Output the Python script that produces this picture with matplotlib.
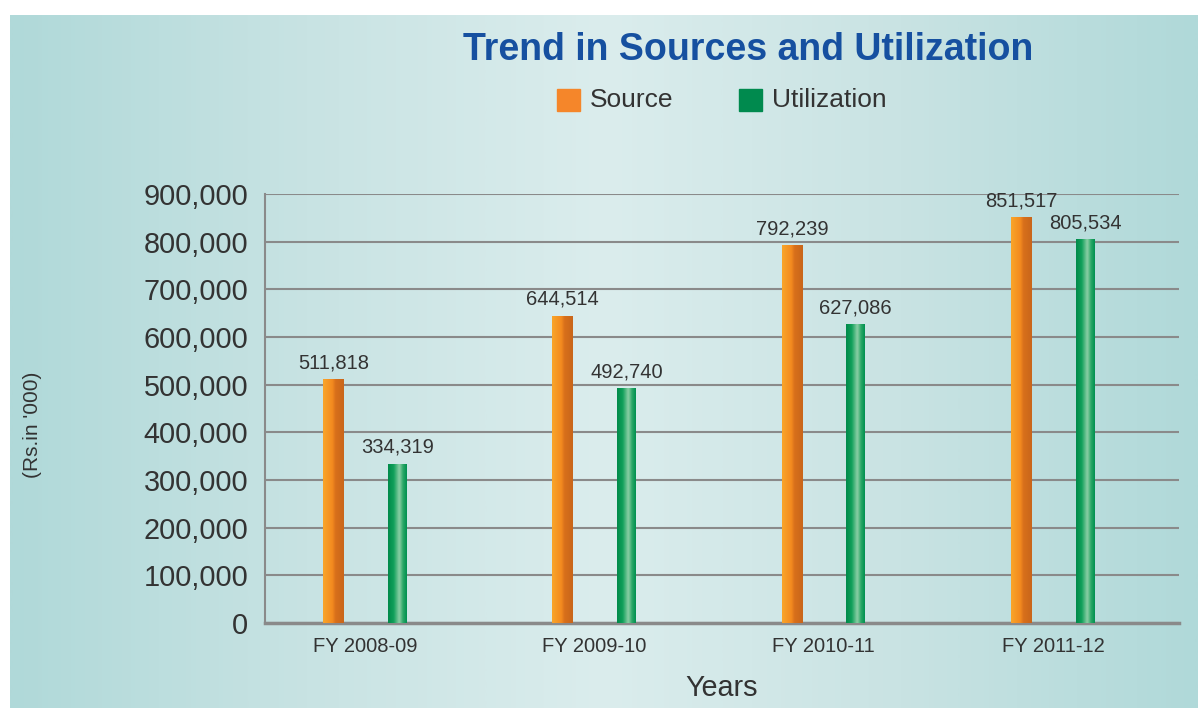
import numpy as np
import matplotlib
matplotlib.use("Agg")
import matplotlib.pyplot as plt
from matplotlib.colors import LinearSegmentedColormap
from matplotlib.ticker import FuncFormatter

# ---- data (Rs. in '000) ----
years = ["FY 2008-09", "FY 2009-10", "FY 2010-11", "FY 2011-12"]
source = [511818, 644514, 792239, 851517]
utilization = [334319, 492740, 627086, 805534]
y_ticks = [0, 100000, 200000, 300000, 400000, 500000, 600000, 700000, 800000, 900000]

plt.rcParams["font.family"] = ["Liberation Sans", "DejaVu Sans"]
TEXT = "#333333"
GRID = "#8a8a8a"

W, H = 1198, 708
fig = plt.figure(figsize=(W / 100, H / 100), dpi=100, facecolor="white")

# teal panel with a soft horizontal gradient, lighter towards the middle
bg = fig.add_axes([10 / W, 0, 1 - 10 / W, 1 - 15 / H], zorder=0)
bg_cmap = LinearSegmentedColormap.from_list(
    "panel", ["#b0d9d9", "#c8e3e3", "#dbeded", "#c9e3e3", "#b0d9d9"])
bg.imshow(np.linspace(0, 1, 512)[None, :], aspect="auto", cmap=bg_cmap,
          extent=[0, 1, 0, 1])
bg.set_axis_off()

ax = fig.add_axes([265 / W, 1 - 623 / H, (1179 - 265) / W, (623 - 194) / H], zorder=1)
ax.patch.set_alpha(0)

x = np.arange(len(years))
off = 0.139
b_src = ax.bar(x - off, source, width=0.09, color="#f08a1e", zorder=3)
b_utl = ax.bar(x + off, utilization, width=0.081, color="#00914f", zorder=3)

# cylindrical shading inside each bar
src_cmap = LinearSegmentedColormap.from_list(
    "src", [(0.0, "#f9a52a"), (0.45, "#f38a1f"), (0.6, "#d8701b"), (1.0, "#c9661a")])
utl_cmap = LinearSegmentedColormap.from_list(
    "utl", [(0.0, "#008a4a"), (0.3, "#10a05a"), (0.6, "#8ccfa6"), (0.8, "#2aa766"), (1.0, "#009050")])

grad = np.linspace(0, 1, 64)[None, :]
for bars, cm in ((b_src, src_cmap), (b_utl, utl_cmap)):
    for p in bars:
        x0, y0 = p.get_x(), p.get_y()
        w, h = p.get_width(), p.get_height()
        im = ax.imshow(grad, aspect="auto", cmap=cm, extent=[x0, x0 + w, y0, y0 + h],
                       zorder=4, interpolation="bicubic")
        im.set_clip_path(p)

# value labels
for bars, vals in ((b_src, source), (b_utl, utilization)):
    for p, v in zip(bars, vals):
        ax.annotate(f"{v:,}", (p.get_x() + p.get_width() / 2, v),
                    xytext=(0, 5), textcoords="offset points",
                    ha="center", va="bottom", fontsize=14.5, color=TEXT, zorder=5)

ax.set_xlim(-0.4375, 3.549)
ax.set_ylim(0, 900000)
ax.set_yticks(y_ticks)
ax.yaxis.set_major_formatter(FuncFormatter(lambda v, _: f"{int(v):,}"))
ax.set_xticks(x)
ax.set_xticklabels(years)
ax.tick_params(axis="y", length=0, pad=12, labelsize=20.8, labelcolor=TEXT)
ax.tick_params(axis="x", length=0, pad=10, labelsize=14.5, labelcolor=TEXT)

ax.grid(axis="y", color=GRID, linewidth=1.5, zorder=1)
for s in ("top", "right"):
    ax.spines[s].set_visible(False)
ax.spines["left"].set_color(GRID)
ax.spines["left"].set_linewidth(1.5)
ax.spines["bottom"].set_color(GRID)
ax.spines["bottom"].set_linewidth(2.5)

ax.set_xlabel("Years", fontsize=20.7, color=TEXT, labelpad=13)

fig.text(32 / W, 1 - 425 / H, "(Rs.in '000)", rotation=90, ha="center", va="center",
         fontsize=15, color=TEXT)

fig.text(748 / W, 1 - 50 / H, "Trend in Sources and Utilization", ha="center", va="center",
         fontsize=27, fontweight="bold", color="#1650a0")

# legend row
for sx, tx, col, lab in ((557, 590, "#f5862a", "Source"), (739, 772, "#008a4e", "Utilization")):
    fig.patches.append(plt.Rectangle((sx / W, 1 - 111 / H), 23 / W, 22 / H,
                                     transform=fig.transFigure, color=col, zorder=2))
    fig.text(tx / W, 1 - 100 / H, lab, ha="left", va="center", fontsize=19, color=TEXT)

fig.savefig("out.png", dpi=100, facecolor="white")
